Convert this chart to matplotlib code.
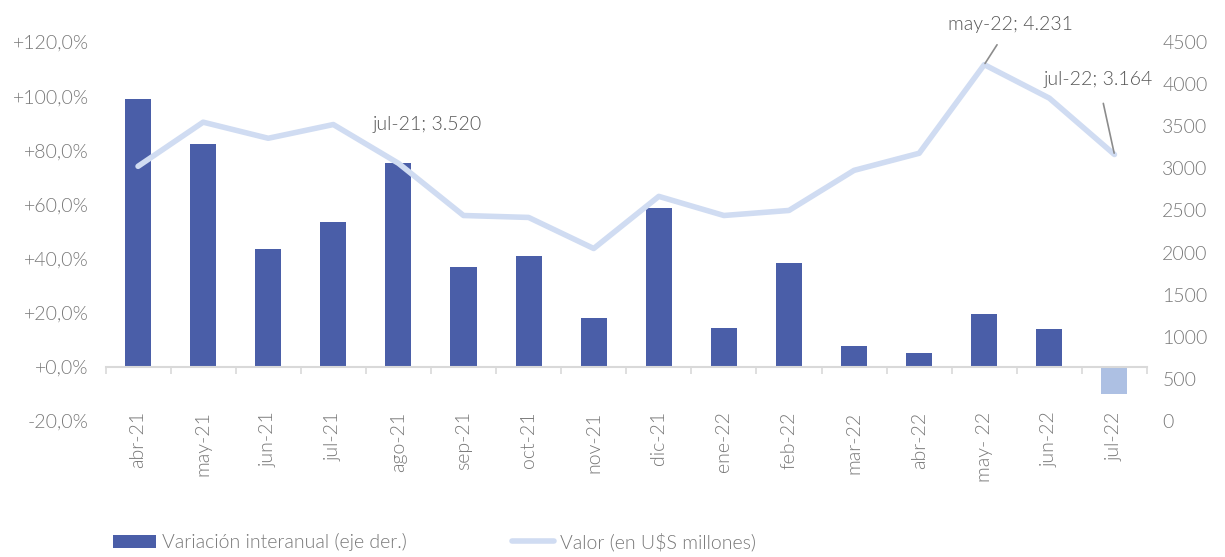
import matplotlib
matplotlib.use("Agg")
import matplotlib.pyplot as plt
from matplotlib.patches import Patch
from matplotlib.lines import Line2D
from matplotlib.ticker import FuncFormatter

plt.rcParams['font.family'] = ['Lato', 'DejaVu Sans']

categories = ["abr-21", "may-21", "jun-21", "jul-21", "ago-21", "sep-21", "oct-21", "nov-21",
              "dic-21", "ene-22", "feb-22", "mar-22", "abr-22", "may- 22", "jun-22", "jul-22"]
variacion = [99.0, 82.3, 43.6, 53.5, 75.3, 36.9, 41.0, 18.1, 58.7, 14.4, 38.4, 7.8, 5.2, 19.6, 14.0, -10.0]
valor = [3024, 3548, 3357, 3520, 3060, 2440, 2417, 2048, 2667, 2440, 2500, 2976, 3179, 4231, 3833, 3164]

bar_color = "#4a5ea8"
bar_neg_color = "#adc0e3"
line_color = "#d0dcf2"
text_color = "#787878"
ann_color = "#555555"
FW = 300

fig = plt.figure(figsize=(12.25, 5.57), dpi=100)
ax = fig.add_axes([105.5/1225, 136/557, 1041.5/1225, 379/557])
ax2 = ax.twinx()

x = list(range(len(categories)))
colors = [bar_color if v >= 0 else bar_neg_color for v in variacion]
ax.bar(x, variacion, width=0.4, color=colors, zorder=2)
ax.set_ylim(-20, 120)
ax.set_xlim(-0.5, len(categories) - 0.5)
ax.set_yticks(range(-20, 121, 20))
ax.yaxis.set_major_formatter(FuncFormatter(lambda v, p: ("+" if v >= 0 else "") + f"{v:.1f}".replace(".", ",") + "%"))

for s in ["top", "left", "right"]:
    ax.spines[s].set_visible(False)
ax.spines["bottom"].set_position(("data", 0))
ax.spines["bottom"].set_color("#d9d9d9")
ax.spines["bottom"].set_linewidth(1.5)
ax.set_xticks([i - 0.5 for i in range(len(categories) + 1)], minor=False)
ax.set_xticklabels([])
ax.set_xticks(x, minor=True)
ax.set_xticklabels(categories, minor=True, rotation=90, fontsize=14, color=text_color,
                   fontweight=FW)
ax.tick_params(axis="x", which="major", length=5, color="#d9d9d9", width=1.2)
ax.tick_params(axis="x", which="minor", length=0, pad=32)
ax.tick_params(axis="y", length=0, labelsize=14, labelcolor=text_color, pad=12)
for lab in ax.get_yticklabels():
    lab.set_fontweight(FW)

ax2.plot(x, valor, color=line_color, linewidth=4, solid_capstyle="round", zorder=3)
ax2.set_ylim(0, 4500)
ax2.set_yticks(range(0, 4501, 500))
for s in ax2.spines.values():
    s.set_visible(False)
ax2.tick_params(axis="y", length=0, labelsize=14, labelcolor=text_color, pad=11)
for lab in ax2.get_yticklabels():
    lab.set_fontweight(FW)

# annotations
ax2.annotate("jul-21; 3.520", xy=(x[3], valor[3]), xytext=(x[3] + 0.6, 3520),
             fontsize=14, color=ann_color, fontweight=FW, ha="left", va="center")
ax2.annotate("may-22; 4.231", xy=(x[13], valor[13]), xytext=(x[13] + 0.4, 4712),
             fontsize=14, color=ann_color, fontweight=FW, ha="center", va="center",
             arrowprops=dict(arrowstyle="-", color="#8c8c8c", lw=1.2, shrinkA=8, shrinkB=1))
ax2.annotate("jul-22; 3.164", xy=(x[15], valor[15]), xytext=(x[15] - 0.25, 4050),
             fontsize=14, color=ann_color, fontweight=FW, ha="center", va="center",
             arrowprops=dict(arrowstyle="-", color="#8c8c8c", lw=1.2, shrinkA=9, shrinkB=1))

handles = [Patch(facecolor=bar_color, edgecolor="none"),
           Line2D([0], [0], color=line_color, lw=4, solid_capstyle="round")]
labels = ["Variación interanual (eje der.)", "Valor (en U$S millones)"]
leg = fig.legend(handles, labels, loc="center left", bbox_to_anchor=(0.086, 0.027), ncol=2,
                 frameon=False, fontsize=14, handlelength=2.2, handleheight=0.7,
                 handletextpad=0.3, columnspacing=5.4, borderaxespad=0)
for t in leg.get_texts():
    t.set_color(text_color)
    t.set_fontweight(FW)

fig.savefig("out.png", dpi=100)
